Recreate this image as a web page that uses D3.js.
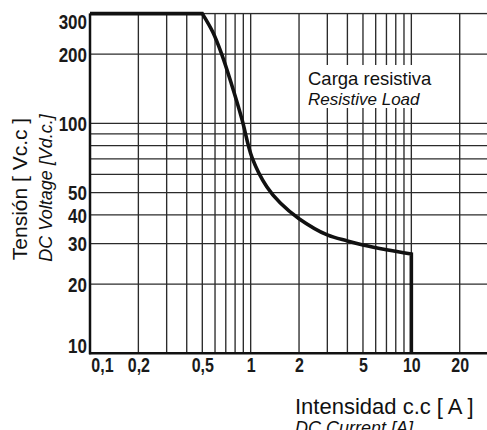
<!DOCTYPE html>
<meta charset="utf-8">
<style>
    body { margin: 0; background: #fff; }
    svg { display: block; }
    .grid line { stroke: #2b2b2b; stroke-width: 1.35; }
    .tick text {
        font-family: 'Liberation Sans', Arial, sans-serif;
        font-weight: bold;
        font-size: 20px;
        fill: #1a1a1a;
    }
    .title { font-family: 'Liberation Sans', Arial, sans-serif; fill: #111; }
</style>

<body>
    <script src="https://cdn.jsdelivr.net/npm/d3@7"></script>
    <script>
        // curve: current (A) vs DC voltage (V)
        var current = [0.1, 0.5, 0.58, 0.66, 0.76, 0.88, 1.02, 1.26, 1.53, 2.0, 3.0, 4.0, 5.0, 7.0, 10.0];
        var voltage = [300, 300, 250, 200, 148, 105, 71, 53, 45, 38.5, 32.7, 30.8, 29.6, 28.2, 27.0];
        var dropTo = 10;   // vertical cut-off at 10 A

        var xGrid = [0.1, 0.2, 0.3, 0.4, 0.5, 0.6, 0.7, 0.8, 0.9, 1, 2, 3, 4, 5, 6, 7, 8, 9, 10, 20];
        var yGrid = [10, 20, 30, 40, 50, 60, 70, 80, 90, 100, 200, 300];
        var xTicks = [0.1, 0.2, 0.5, 1, 2, 5, 10, 20];
        var xTickLabels = ["0,1", "0,2", "0,5", "1", "2", "5", "10", "20"];
        var yTicks = [10, 20, 30, 40, 50, 100, 200, 300];

        var width = 487,
            height = 430

        var plotL = 90, plotR = 488, plotT = 13.6, plotB = 353.3

        var svg = d3.select("body").append("svg")
            .attr("width", width)
            .attr("height", height);

        var x = d3.scaleLog().domain([0.1, 30]).range([plotL, plotR]);
        var y = d3.scaleLog().domain([10, 300]).range([plotB, plotT]);

        // faint top edge
        svg.append("line")
            .attr("x1", plotL).attr("x2", width)
            .attr("y1", plotT - 0.5).attr("y2", plotT - 0.5)
            .attr("stroke", "#d6d6d6").attr("stroke-width", 1.2);

        var grid = svg.append("g").attr("class", "grid");

        grid.selectAll(".v")
            .data(xGrid)
            .enter().append("line")
            .attr("class", "v")
            .attr("x1", function (d) { return x(d); })
            .attr("x2", function (d) { return x(d); })
            .attr("y1", plotT)
            .attr("y2", plotB);

        grid.selectAll(".h")
            .data(yGrid)
            .enter().append("line")
            .attr("class", "h")
            .attr("x1", plotL)
            .attr("x2", width)
            .attr("y1", function (d) { return y(d); })
            .attr("y2", function (d) { return y(d); });

        // white box behind the load label
        svg.append("rect")
            .attr("x", 305).attr("y", 65)
            .attr("width", 130).attr("height", 43)
            .attr("fill", "#fff");

        // axes
        svg.append("line")
            .attr("x1", plotL).attr("x2", plotL)
            .attr("y1", plotT).attr("y2", plotB + 1)
            .attr("stroke", "#111").attr("stroke-width", 2.5);
        svg.append("line")
            .attr("x1", plotL - 1).attr("x2", width)
            .attr("y1", plotB).attr("y2", plotB)
            .attr("stroke", "#111").attr("stroke-width", 2.5);

        var yAxis = svg.append("g")
            .attr("transform", "translate(" + (plotL - 3) + ",0)")
            .call(d3.axisLeft(y).tickValues(yTicks).tickFormat(d3.format("d")).tickSize(0).tickPadding(0));
        yAxis.select(".domain").remove();
        yAxis.selectAll(".tick text")
            .attr("transform", "scale(0.85,1)")
            .attr("dy", function (d) {
                if (d == 300) return "0.72em";
                if (d == 10) return "0";
                return "0.36em";
            })
            .attr("y", function (d) { return d == 10 ? -0.5 : 0; });

        var xAxis = svg.append("g")
            .attr("transform", "translate(0," + plotB + ")")
            .call(d3.axisBottom(x).tickValues(xTicks).tickSize(0).tickPadding(5)
                .tickFormat(function (d, i) { return xTickLabels[i]; }));
        xAxis.select(".domain").remove();
        xAxis.selectAll(".tick text")
            .attr("transform", "scale(0.8,1)")
            .attr("text-anchor", function (d) { return d == 0.1 ? "start" : "middle"; })
            .attr("x", function (d) { return d == 0.1 ? 1 : 0; });

        // the curve: flat top, smooth bend, vertical drop
        var pts = current.map(function (c, i) { return [x(c), y(voltage[i])]; });
        var straight = d3.line();
        var bend = d3.line().curve(d3.curveCatmullRom.alpha(0.5));
        var last = pts[pts.length - 1];

        svg.append("path")
            .attr("d", straight(pts.slice(0, 2)) + bend(pts.slice(1)).replace(/^M[^CL]*/, "") + "L" + last[0] + "," + y(dropTo))
            .attr("fill", "none")
            .attr("stroke", "#111")
            .attr("stroke-width", 3.6)
            .attr("stroke-linejoin", "miter");

        // texts
        svg.append("text")
            .attr("class", "title")
            .attr("transform", "translate(27,189) rotate(-90)")
            .attr("text-anchor", "middle")
            .style("font-size", "21px")
            .text("Tensión [ Vc.c ]");

        svg.append("text")
            .attr("class", "title")
            .attr("transform", "translate(52,188) rotate(-90)")
            .attr("text-anchor", "middle")
            .style("font-size", "18px")
            .style("font-style", "italic")
            .text("DC Voltage [Vd.c.]");

        svg.append("text")
            .attr("class", "title")
            .attr("x", 295).attr("y", 414)
            .style("font-size", "22px")
            .text("Intensidad c.c [ A ]");

        svg.append("text")
            .attr("class", "title")
            .attr("x", 295).attr("y", 434)
            .style("font-size", "18px")
            .style("font-style", "italic")
            .text("DC Current [A]");

        svg.append("text")
            .attr("class", "title")
            .attr("x", 308).attr("y", 85)
            .style("font-size", "18.5px")
            .text("Carga resistiva");

        svg.append("text")
            .attr("class", "title")
            .attr("x", 308).attr("y", 105)
            .style("font-size", "17px")
            .style("font-style", "italic")
            .text("Resistive Load");
    </script>
